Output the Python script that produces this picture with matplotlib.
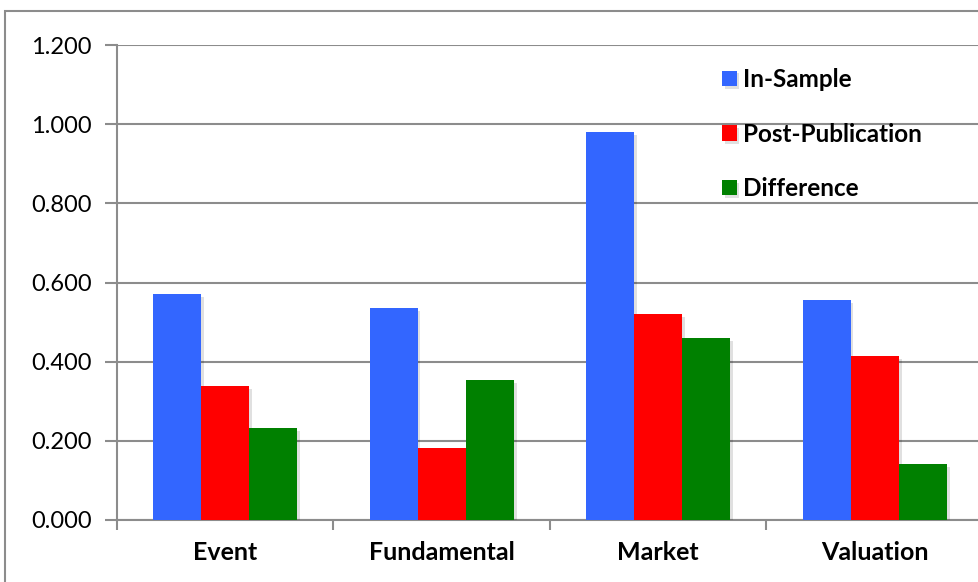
import matplotlib
matplotlib.use("Agg")
import matplotlib.pyplot as plt
import matplotlib.patches as mpatches
import matplotlib.patheffects as pe
import numpy as np

categories = ["Event", "Fundamental", "Market", "Valuation"]
series_names = ["In-Sample", "Post-Publication", "Difference"]
in_sample = [0.571, 0.536, 0.980, 0.556]
post_publication = [0.339, 0.182, 0.521, 0.414]
difference = [0.232, 0.354, 0.459, 0.142]
colors = ["#3366FF", "#FF0000", "#008000"]
y_ticks = [0.0, 0.2, 0.4, 0.6, 0.8, 1.0, 1.2]

font = ["Lato", "DejaVu Sans"]

fig = plt.figure(figsize=(9.79, 5.82), dpi=100)

# outer chart frame
fig.patches.append(mpatches.Rectangle((5 / 979, -0.05), 1.2, 1 - 11 / 582 + 0.05,
                                      transform=fig.transFigure, fill=False,
                                      edgecolor="#8c8c8c", linewidth=1.5))

ax = fig.add_axes([117 / 979, 1 - 520 / 582, 866 / 979, 475 / 582])

x = np.arange(len(categories))
width = 0.222
shadow = [pe.SimplePatchShadow(offset=(2, -2), shadow_rgbFace="#000000", alpha=0.12), pe.Normal()]
for i, (vals, name, col) in enumerate(zip([in_sample, post_publication, difference], series_names, colors)):
    bars = ax.bar(x + (i - 1) * width, vals, width, color=col, label=name, zorder=3)
    for b in bars:
        b.set_path_effects(shadow)

ax.set_xlim(-0.5, len(categories) - 0.5)
ax.set_ylim(0, 1.2)
ax.set_yticks(y_ticks)
ax.set_yticklabels([f"{v:.3f}" for v in y_ticks], family=font, fontsize=17)
ax.yaxis.grid(True, color="#8c8c8c", linewidth=1.5, zorder=0)
ax.set_axisbelow(True)

ax.set_xticks(x)
ax.set_xticklabels(categories, family=font, fontsize=18, fontweight="bold")
ax.tick_params(axis="x", length=0, pad=15)
ax.set_xticks(np.arange(len(categories) + 1) - 0.5, minor=True)
ax.tick_params(axis="x", which="minor", length=7, color="#8c8c8c", width=1.5, direction="out")
ax.tick_params(axis="y", length=9, color="#8c8c8c", width=1.5, direction="out", pad=9)

for s in ["top", "right"]:
    ax.spines[s].set_visible(False)
for s in ["left", "bottom"]:
    ax.spines[s].set_color("#8c8c8c")
    ax.spines[s].set_linewidth(1.5)

leg = ax.legend(loc="upper left", bbox_to_anchor=(722 / 979, 1 - 68 / 582), bbox_transform=fig.transFigure,
                frameon=False, prop={"family": font, "weight": "bold", "size": 17.5},
                handlelength=0.6, handleheight=0.6, handletextpad=0.28, labelspacing=1.3,
                borderaxespad=0, borderpad=0)

fig.savefig("out.png", dpi=100)
